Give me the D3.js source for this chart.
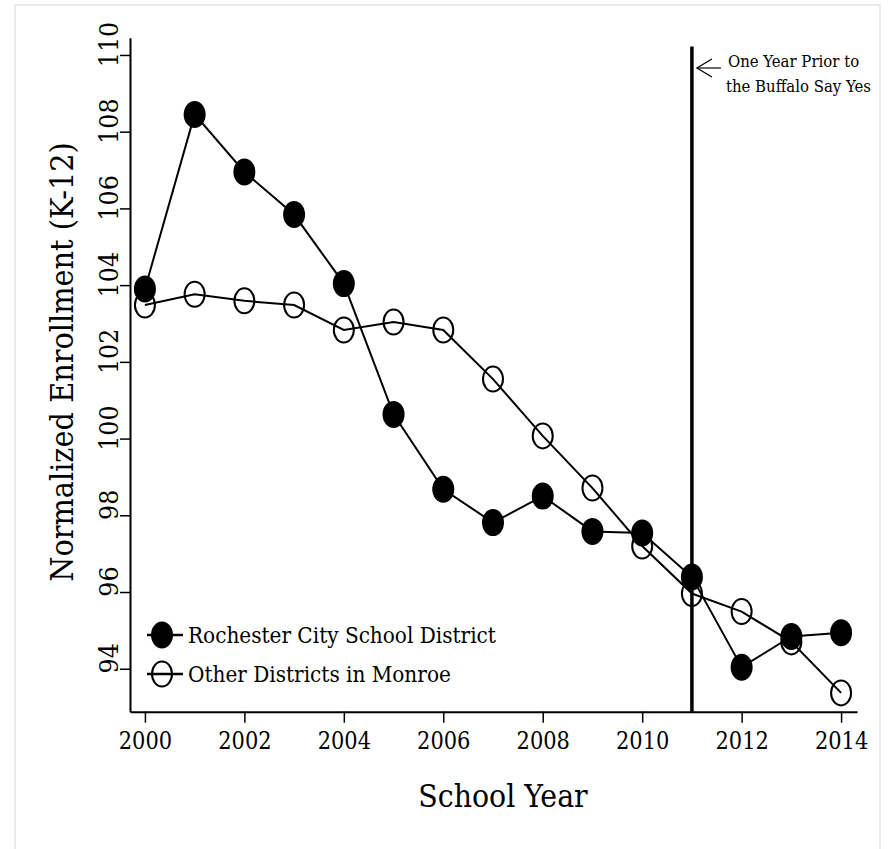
<!DOCTYPE html>
<html>
<head>
<meta charset="utf-8">
<script src="https://cdn.jsdelivr.net/npm/d3@7"></script>
<style>
  html, body { margin: 0; padding: 0; background: #fff; }
  svg text { font-family: "DejaVu Serif Condensed", "DejaVu Serif", serif; font-stretch: condensed; fill: #000; }
</style>
</head>
<body>
<svg id="chart" width="888" height="849"></svg>
<script>
// ---- data ----
const years = [2000, 2001, 2002, 2003, 2004, 2005, 2006, 2007, 2008, 2009, 2010, 2011, 2012, 2013, 2014];
const rochester = [103.90, 108.45, 106.95, 105.84, 104.04, 100.63, 98.68, 97.81, 98.50, 97.58, 97.54, 96.39, 94.04, 94.84, 94.94];
const others = [103.48, 103.76, 103.59, 103.48, 102.83, 103.04, 102.83, 101.55, 100.07, 98.71, 97.20, 95.96, 95.49, 94.70, 93.37];
const xTicks = [2000, 2002, 2004, 2006, 2008, 2010, 2012, 2014];
const yTicks = [94, 96, 98, 100, 102, 104, 106, 108, 110];
const seriesNames = ["Rochester City School District", "Other Districts in Monroe"];
const eventYear = 2011;
const annotationLines = ["One Year Prior to", "the Buffalo Say Yes"];
const xTitle = "School Year";
const yTitle = "Normalized Enrollment (K-12)";

const svg = d3.select("#chart");

// outer light frame
svg.append("rect").attr("x", 15).attr("y", 5).attr("width", 865).attr("height", 860)
  .attr("fill", "#fff").attr("stroke", "#ebebeb").attr("stroke-width", 2);

const x = d3.scaleLinear().domain([1999.7, 2014.32]).range([130, 857]);
const y = d3.scaleLinear().domain([92.88, 110.45]).range([711.7, 37.7]);

// axes
const xAxis = svg.append("g").attr("transform", `translate(0,${y.range()[0]})`)
  .call(d3.axisBottom(x).tickValues(xTicks).tickFormat(d3.format("d")).tickSize(11).tickSizeOuter(0).tickPadding(8));
xAxis.select(".domain").attr("stroke-width", 2);
xAxis.selectAll(".tick line").attr("stroke-width", 1.5);
xAxis.selectAll(".tick text").attr("font-size", 23.3).attr("dy", 0).attr("y", 37.5);

const yAxis = svg.append("g").attr("transform", `translate(${x.range()[0]},0)`)
  .call(d3.axisLeft(y).tickValues(yTicks).tickFormat(d3.format("d")).tickSize(10).tickSizeOuter(0));
yAxis.select(".domain").attr("stroke-width", 2);
yAxis.selectAll(".tick line").attr("stroke-width", 1.5);
yAxis.selectAll(".tick text")
  .attr("font-size", 26.5).attr("x", 0).attr("dy", 0).attr("text-anchor", "middle")
  .attr("transform", "translate(-12,-11) rotate(-90)");

// axis titles
svg.append("text").attr("x", 503).attr("y", 807).attr("text-anchor", "middle")
  .attr("font-size", 31.6).text(xTitle);
svg.append("text").attr("transform", "translate(73,362) rotate(-90)").attr("text-anchor", "middle")
  .attr("font-size", 32).text(yTitle);

// vertical event line
svg.append("line").attr("x1", x(eventYear)).attr("x2", x(eventYear))
  .attr("y1", y(110.22)).attr("y2", y.range()[0])
  .attr("stroke", "#000").attr("stroke-width", 3.5);

// annotation arrow + text
const ax = x(eventYear) + 5, ay = 68;
const arrow = svg.append("g").attr("stroke", "#000").attr("stroke-width", 1.2).attr("fill", "none");
arrow.append("line").attr("x1", ax).attr("y1", ay).attr("x2", ax + 24).attr("y2", ay);
arrow.append("path").attr("d", `M${ax + 15},${ay - 9} L${ax},${ay} L${ax + 15},${ay + 9}`);
svg.append("text").attr("font-size", 16.6).selectAll("tspan").data(annotationLines).join("tspan")
  .attr("x", (d, i) => i === 0 ? ax + 31 : ax + 29)
  .attr("y", (d, i) => 67 + i * 25).text(d => d);

const line = d3.line().x((d, i) => x(years[i])).y(d => y(d));

// Others (hollow) drawn first
svg.append("path").datum(others).attr("d", line).attr("fill", "none").attr("stroke", "#000").attr("stroke-width", 2);
svg.append("g").selectAll("ellipse").data(others).join("ellipse")
  .attr("cx", (d, i) => x(years[i])).attr("cy", d => y(d))
  .attr("rx", 10).attr("ry", 12.5).attr("fill", "none").attr("stroke", "#000").attr("stroke-width", 2);

// Rochester (filled)
svg.append("path").datum(rochester).attr("d", line).attr("fill", "none").attr("stroke", "#000").attr("stroke-width", 2);
svg.append("g").selectAll("ellipse").data(rochester).join("ellipse")
  .attr("cx", (d, i) => x(years[i])).attr("cy", d => y(d))
  .attr("rx", 11).attr("ry", 13.5).attr("fill", "#000");

// legend
const legend = svg.append("g").attr("transform", "translate(147,635)");
seriesNames.forEach((name, i) => {
  const g = legend.append("g").attr("transform", `translate(0,${i * 39})`);
  g.append("line").attr("x1", 0).attr("x2", 36).attr("y1", 0).attr("y2", 0)
    .attr("stroke", "#000").attr("stroke-width", 2.5);
  if (i === 0) {
    g.append("ellipse").attr("cx", 15).attr("cy", 0).attr("rx", 11).attr("ry", 13.5).attr("fill", "#000");
  } else {
    g.append("ellipse").attr("cx", 15).attr("cy", 0).attr("rx", 10).attr("ry", 12.5)
      .attr("fill", "none").attr("stroke", "#000").attr("stroke-width", 2);
  }
  g.append("text").attr("x", 41).attr("y", 7.5).attr("font-size", 22.3).text(name);
});
</script>
</body>
</html>
